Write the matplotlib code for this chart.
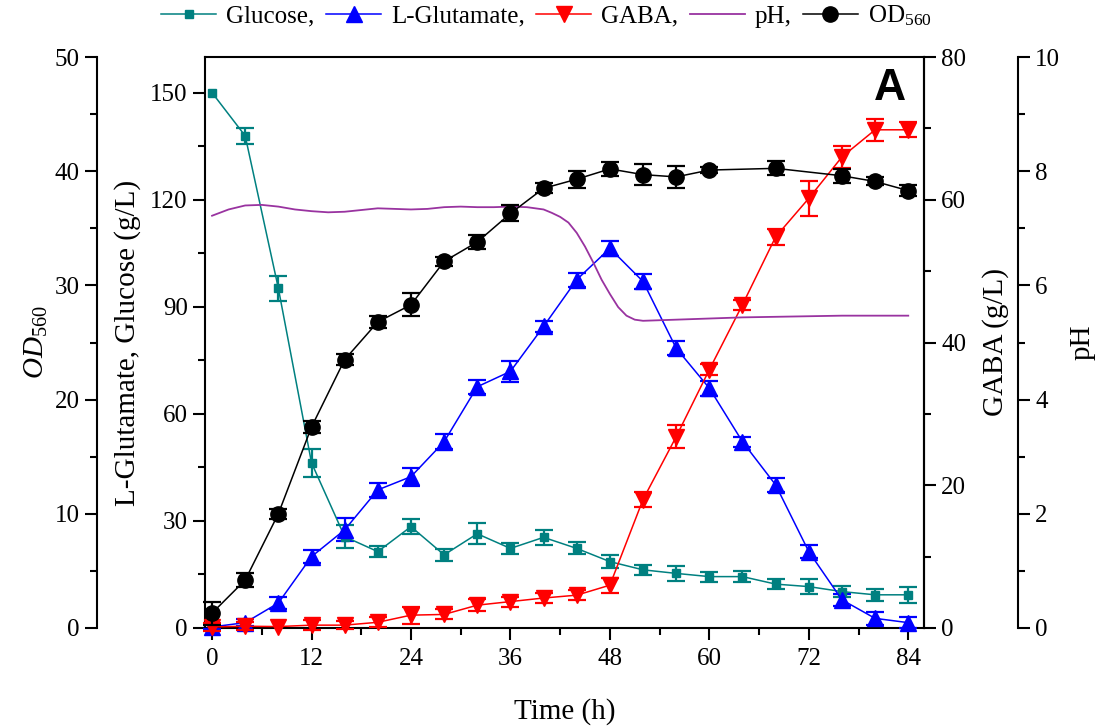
import matplotlib
matplotlib.use('Agg')
import matplotlib.pyplot as plt
from matplotlib.ticker import MultipleLocator

plt.rcParams['font.family'] = ['Liberation Serif', 'DejaVu Serif']
plt.rcParams['mathtext.fontset'] = 'custom'
plt.rcParams['mathtext.rm'] = 'Liberation Serif'
plt.rcParams['mathtext.it'] = 'Liberation Serif:italic'

time_h = [0, 4, 8, 12, 16, 20, 24, 28, 32, 36, 40, 44, 48, 52, 56, 60, 64, 68, 72, 76, 80, 84]
glucose = [150.0, 137.9, 95.2, 46.3, 25.6, 21.4, 28.4, 20.5, 26.4, 22.3, 25.4,
           22.3, 18.6, 16.3, 15.3, 14.4, 14.4, 12.3, 11.6, 10.2, 9.3, 9.3]
glucose_err = [0, 2.2, 3.5, 3.9, 3.3, 1.6, 2.1, 1.6, 3.0, 1.5, 2.1,
               1.7, 1.9, 1.4, 2.1, 1.4, 1.5, 1.5, 2.0, 1.6, 1.6, 2.3]
glutamate = [0.3, 1.5, 7.0, 20.0, 27.5, 38.7, 42.4, 52.2, 67.6, 71.9, 84.5,
             97.6, 106.4, 97.1, 78.4, 67.2, 52.2, 40.1, 21.4, 7.9, 2.7, 1.5]
glutamate_err = [0.5, 1.0, 1.7, 1.9, 3.2, 1.9, 2.5, 2.1, 1.9, 3.0, 1.5,
                 2.0, 2.1, 2.1, 2.0, 2.1, 1.4, 1.9, 1.9, 1.6, 1.9, 1.6]
gaba = [0.15, 0.25, 0.2, 0.4, 0.4, 0.8, 1.8, 1.9, 3.2, 3.7, 4.2,
        4.6, 6.0, 18.0, 26.8, 36.2, 45.3, 54.8, 60.2, 66.0, 69.8, 69.8]
gaba_err = [0.6, 0.6, 0, 0.7, 0.6, 0.7, 1.2, 0.7, 0.8, 0.7, 0.7,
            0.7, 1.05, 1.05, 1.6, 0.8, 0.7, 1.1, 2.45, 1.5, 1.5, 1.05]

od_time = [0, 4, 8, 12, 16, 20, 24, 28, 32, 36, 40, 44, 48, 52, 56, 60, 68, 76, 80, 84]
od = [1.3, 4.2, 10.0, 17.6, 23.5, 26.8, 28.3, 32.1, 33.8, 36.3, 38.5,
      39.3, 40.2, 39.7, 39.5, 40.1, 40.25, 39.6, 39.1, 38.3]
od_err = [1.0, 0.6, 0.45, 0.5, 0.45, 0.5, 1.0, 0.4, 0.65, 0.7, 0.45,
          0.73, 0.6, 0.95, 0.95, 0.3, 0.6, 0.6, 0.35, 0.5]

ph_time = [0, 2, 4, 6, 8, 10, 12, 14, 16, 18, 20, 22, 24, 26, 28, 30, 32, 34, 36, 38,
           40, 41, 42, 43, 44, 45, 46, 47, 48, 49, 50, 51, 52, 54, 56, 60, 64, 68, 72, 76, 80, 84]
ph = [7.22, 7.33, 7.40, 7.41, 7.38, 7.33, 7.30, 7.28, 7.29, 7.32, 7.35, 7.34, 7.33, 7.34,
      7.37, 7.38, 7.37, 7.37, 7.38, 7.37, 7.33, 7.27, 7.20, 7.10, 6.92, 6.68, 6.40, 6.10,
      5.85, 5.62, 5.47, 5.40, 5.38, 5.39, 5.40, 5.42, 5.44, 5.45, 5.46, 5.47, 5.47, 5.47]

TEAL = '#008080'
BLUE = '#0000FF'
RED = '#FF0000'
PURPLE = '#9933A0'
TICK_FS = 18
LABEL_FS = 21


def draw_series(axis, x, y, err, color, marker, ms):
    xs = [a for a, e in zip(x, err) if e > 0]
    ys = [b for b, e in zip(y, err) if e > 0]
    es = [e for e in err if e > 0]
    axis.errorbar(xs, ys, yerr=es, fmt='none', ecolor=color, elinewidth=1.6,
                  capsize=6.5, capthick=1.6, clip_on=False, zorder=3)
    line, = axis.plot(x, y, color=color, marker=marker, ms=ms, lw=1.1,
                      clip_on=False, zorder=4)
    return line


def style_axis(axis, side, major, minor):
    axis.tick_params(axis='y', which='major', direction='out', length=8.5, width=1.5,
                     labelsize=TICK_FS, pad=4, left=(side == 'left'), right=(side == 'right'),
                     labelleft=(side == 'left'), labelright=(side == 'right'))
    axis.tick_params(axis='y', which='minor', direction='out', length=5, width=1.5,
                     left=(side == 'left'), right=(side == 'right'))
    axis.yaxis.set_major_locator(MultipleLocator(major))
    axis.yaxis.set_minor_locator(MultipleLocator(minor))


fig = plt.figure(figsize=(11.02, 7.26), dpi=100)
ax = fig.add_axes([205 / 1102, 1 - 628 / 726, 719 / 1102, 571 / 726])
ax_gaba = ax.twinx()
ax_ph = ax.twinx()
ax_od = ax.twinx()

for a in (ax, ax_gaba, ax_ph, ax_od):
    for s in a.spines.values():
        s.set_linewidth(1.5)
for a in (ax_gaba, ax_ph, ax_od):
    a.spines['top'].set_visible(False)
    a.spines['bottom'].set_visible(False)
    a.spines['left'].set_visible(False)
    a.spines['right'].set_visible(False)

ax_gaba.spines['right'].set_visible(True)
ax_ph.spines['right'].set_visible(True)
ax_ph.spines['right'].set_position(('axes', 1.1307))
ax_od.spines['left'].set_visible(True)
ax_od.spines['left'].set_position(('axes', -0.150))
ax_od.yaxis.set_ticks_position('left')
ax_od.yaxis.set_label_position('left')

h_glu = draw_series(ax, time_h, glucose, glucose_err, TEAL, 's', 6)
h_glut = draw_series(ax, time_h, glutamate, glutamate_err, BLUE, '^', 11)
h_gaba = draw_series(ax_gaba, time_h, gaba, gaba_err, RED, 'v', 11)
h_ph, = ax_ph.plot(ph_time, ph, color=PURPLE, lw=1.3)
h_od = draw_series(ax_od, od_time, od, od_err, 'black', 'o', 11)

ax.set_xlim(-0.85, 85.9)
ax.set_ylim(0, 160)
ax_gaba.set_ylim(0, 80)
ax_ph.set_ylim(0, 10)
ax_od.set_ylim(0, 50)

ax.set_xticks(range(0, 85, 12))
ax.xaxis.set_minor_locator(MultipleLocator(6))
ax.tick_params(axis='x', which='major', direction='out', length=8.5, width=1.5,
               labelsize=TICK_FS, pad=6, top=False)
ax.tick_params(axis='x', which='minor', direction='out', length=5, width=1.5, top=False)

style_axis(ax, 'left', 30, 15)
style_axis(ax_gaba, 'right', 20, 10)
style_axis(ax_ph, 'right', 2, 1)
style_axis(ax_od, 'left', 10, 5)

ax.set_xlabel('Time (h)', fontsize=LABEL_FS, labelpad=20)
ax.set_ylabel('L-Glutamate, Glucose (g/L)', fontsize=LABEL_FS)
ax.yaxis.set_label_coords(-0.089, 0.5)
ax_gaba.set_ylabel('GABA (g/L)', fontsize=LABEL_FS)
ax_gaba.yaxis.set_label_coords(1.0807, 0.5)
ax_ph.set_ylabel('pH', fontsize=LABEL_FS)
ax_ph.yaxis.set_label_coords(1.203, 0.5)
ax_od.set_ylabel('$OD_{560}$', fontsize=LABEL_FS)
ax_od.yaxis.set_label_coords(-0.2156, 0.5)

ax.text(0.975, 0.981, 'A', transform=ax.transAxes, ha='right', va='top',
        fontsize=32, fontweight='bold', family='Liberation Sans')

handles = [h_glu, h_glut, h_gaba, h_ph, h_od]
labels = ['Glucose,', 'L-Glutamate,', 'GABA,', 'pH,', r'$\mathrm{OD}_{560}$']
fig.legend(handles, labels, loc='center', bbox_to_anchor=(0.496, 0.978), ncol=5,
           frameon=False, fontsize=18, handlelength=2.2, handletextpad=0.4,
           columnspacing=0.45, borderpad=0, borderaxespad=0)

fig.savefig('out.png', dpi=100)
